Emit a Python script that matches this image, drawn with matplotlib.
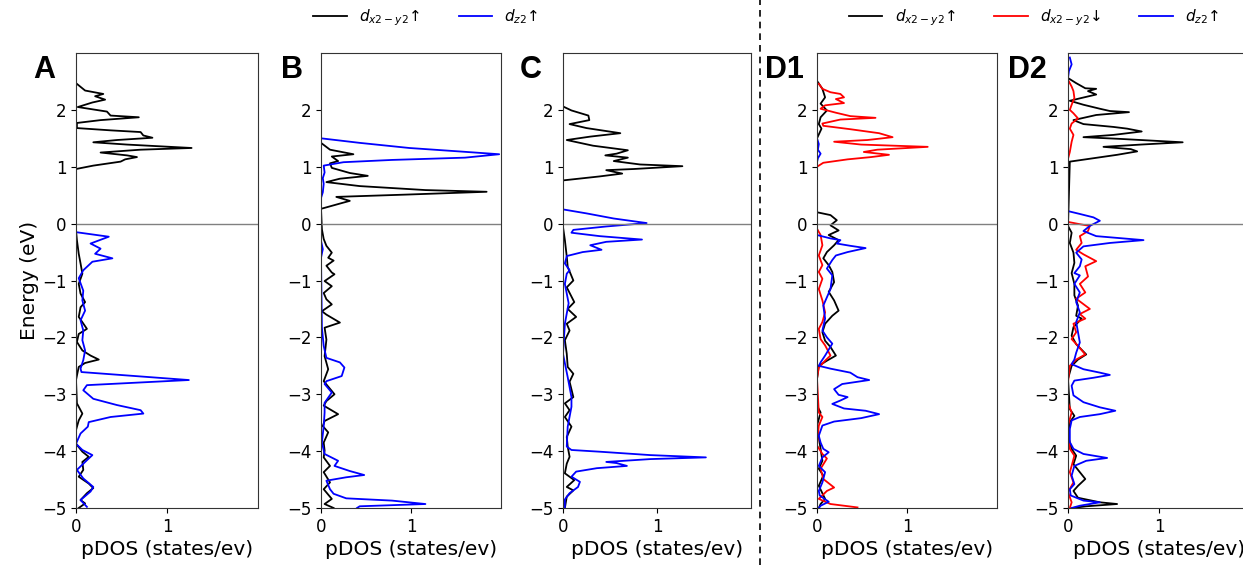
import matplotlib
matplotlib.use("Agg")
import matplotlib.pyplot as plt
from matplotlib.lines import Line2D

# ---- data (energy in eV, pDOS in states/eV) ----
# panel A
a_up_e = [2.47, 2.34, 2.28, 2.24, 2.18, 2.13, 2.05, 2.02, 1.97, 1.90, 1.87, 1.82, 1.77, 1.68, 1.64,
          1.61, 1.55, 1.51, 1.47, 1.43, 1.39, 1.33, 1.30, 1.25, 1.20, 1.17, 1.13, 1.09, 1.02, 0.96,
          -0.12, -0.29, -0.53, -0.70, -0.88, -1.06, -1.23, -1.38, -1.47, -1.64, -1.85, -1.94, -2.08,
          -2.23, -2.32, -2.39, -2.45, -2.52, -2.75, -3.16, -3.34, -3.46, -3.63, -3.87, -4.01, -4.10,
          -4.19, -4.33, -4.45, -4.57, -4.65, -4.74, -4.86, -4.92, -5.0]
a_up_dos = [0.0, 0.10, 0.30, 0.21, 0.32, 0.18, 0.02, 0.14, 0.34, 0.38, 0.69, 0.27, 0.01, 0.01, 0.38,
            0.71, 0.74, 0.84, 0.45, 0.19, 0.56, 1.27, 0.71, 0.27, 0.56, 0.67, 0.54, 0.49, 0.19, 0.0,
            0.0, 0.01, 0.03, 0.05, 0.07, 0.03, 0.05, 0.10, 0.05, 0.03, 0.12, 0.03, 0.01,
            0.07, 0.16, 0.25, 0.10, 0.03, 0.0, 0.01, 0.07, 0.03, 0.0, 0.0, 0.07, 0.14,
            0.07, 0.08, 0.03, 0.14, 0.19, 0.12, 0.05, 0.10, 0.03]
a_z2_e = [-0.15, -0.23, -0.35, -0.44, -0.53, -0.61, -0.67, -0.82, -0.96, -1.18, -1.35, -1.53, -1.70,
          -1.88, -2.05, -2.23, -2.40, -2.55, -2.61, -2.75, -2.84, -2.93, -3.08, -3.19, -3.28, -3.34,
          -3.40, -3.49, -3.57, -3.69, -3.87, -3.98, -4.07, -4.16, -4.33, -4.48, -4.63, -4.71, -4.86,
          -4.98]
a_z2_dos = [0.0, 0.36, 0.16, 0.27, 0.21, 0.40, 0.18, 0.08, 0.03, 0.08, 0.07, 0.10, 0.05,
            0.08, 0.07, 0.10, 0.08, 0.05, 0.06, 1.24, 0.12, 0.08, 0.19, 0.45, 0.71, 0.74,
            0.38, 0.14, 0.13, 0.05, 0.0, 0.07, 0.18, 0.12, 0.01, 0.08, 0.19, 0.16, 0.05,
            0.12]

# panel B
b_up_e = [1.42, 1.30, 1.22, 1.18, 1.10, 1.06, 0.98, 0.89, 0.84, 0.79, 0.73, 0.66, 0.59, 0.56, 0.51,
          0.47, 0.40, 0.37, 0.26, -0.10, -0.27, -0.39, -0.51, -0.60, -0.65, -0.74, -0.86, -0.89,
          -1.01, -1.10, -1.22, -1.33, -1.42, -1.54, -1.60, -1.74, -1.83, -2.04, -2.33, -2.56, -2.77,
          -3.00, -3.12, -3.20, -3.35, -3.47, -3.56, -3.67, -3.85, -3.99, -4.11, -4.26, -4.37, -4.55,
          -4.67, -4.84, -4.93, -5.0]
b_up_dos = [0.0, 0.10, 0.36, 0.12, 0.19, 0.10, 0.12, 0.32, 0.52, 0.21, 0.06, 0.43, 1.16, 1.84, 0.94,
            0.17, 0.32, 0.25, 0.0, 0.01, 0.03, 0.06, 0.12, 0.08, 0.14, 0.06, 0.12, 0.15,
            0.04, 0.12, 0.03, 0.06, 0.12, 0.01, 0.06, 0.21, 0.04, 0.06, 0.04, 0.08, 0.03,
            0.15, 0.06, 0.03, 0.19, 0.04, 0.02, 0.08, 0.03, 0.04, 0.03, 0.10, 0.03, 0.10,
            0.03, 0.12, 0.04, 0.14]
b_z2_e = [1.50, 1.42, 1.33, 1.27, 1.22, 1.16, 1.12, 1.08, 1.02, 0.90, 0.80, 0.70, 0.55, 0.45,
          -0.30, -0.45, -0.60, -1.83, -2.15, -2.36, -2.44, -2.53, -2.68, -2.77, -2.82, -2.97, -3.15,
          -3.32, -3.56, -3.85, -4.05, -4.17, -4.26, -4.35, -4.42, -4.46, -4.52, -4.67, -4.75, -4.83,
          -4.87, -4.93, -4.97, -5.0]
b_z2_dos = [0.0, 0.43, 0.98, 1.53, 1.98, 1.60, 0.79, 0.25, 0.03, 0.04, 0.02, 0.03, 0.02, 0.0,
            0.0, 0.02, 0.0, 0.01, 0.03, 0.06, 0.21, 0.26, 0.23, 0.06, 0.04, 0.12, 0.04,
            0.04, 0.03, 0.01, 0.04, 0.19, 0.15, 0.32, 0.48, 0.28, 0.06, 0.10, 0.14, 0.28,
            0.79, 1.16, 0.43, 0.40]

# panel C
c_up_e = [2.06, 1.99, 1.90, 1.82, 1.75, 1.68, 1.59, 1.53, 1.47, 1.37, 1.29, 1.23, 1.20, 1.16, 1.10,
          1.04, 1.01, 0.96, 0.94, 0.88, 0.83, 0.76, -0.06, -0.29, -0.58, -0.76, -1.00, -1.12, -1.38,
          -1.50, -1.64, -1.76, -1.88, -2.05, -2.29, -2.52, -2.64, -2.78, -3.05, -3.16, -3.28, -3.40,
          -3.57, -3.75, -3.92, -4.10, -4.22, -4.39, -4.51, -4.63, -4.69, -4.80, -5.0]
c_up_dos = [0.0, 0.09, 0.27, 0.28, 0.07, 0.25, 0.61, 0.29, 0.04, 0.32, 0.69, 0.57, 0.45, 0.69, 0.54,
            0.82, 1.27, 0.75, 0.46, 0.63, 0.39, 0.0, 0.0, 0.02, 0.04, 0.05, 0.11, 0.04, 0.12,
            0.05, 0.14, 0.04, 0.07, 0.02, 0.04, 0.05, 0.11, 0.07, 0.11, 0.02, 0.07, 0.02,
            0.09, 0.04, 0.05, 0.07, 0.04, 0.02, 0.12, 0.04, 0.11, 0.04, 0.02]
c_z2_e = [0.25, 0.18, 0.09, 0.01, -0.05, -0.11, -0.16, -0.22, -0.28, -0.32, -0.38, -0.46, -0.50,
          -0.57, -0.70, -0.82, -0.88, -1.06, -1.40, -1.76, -2.29, -2.70, -3.05, -3.22, -3.57, -3.92,
          -3.98, -4.01, -4.07, -4.11, -4.14, -4.19, -4.21, -4.26, -4.30, -4.36, -4.45, -4.54, -4.63,
          -4.74, -4.85, -5.0]
c_z2_dos = [0.0, 0.25, 0.54, 0.89, 0.46, 0.11, 0.09, 0.39, 0.84, 0.46, 0.29, 0.41, 0.21,
            0.04, 0.02, 0.07, 0.04, 0.02, 0.06, 0.02, 0.0, 0.05, 0.09, 0.09, 0.05, 0.04,
            0.09, 0.39, 0.93, 1.52, 0.93, 0.46, 0.57, 0.68, 0.36, 0.14, 0.09, 0.18, 0.16,
            0.07, 0.02, 0.02]

# panel D1
d1_up_e = [2.51, 2.37, 2.22, 2.11, 1.99, 1.87, 1.75, 1.67, 1.50, 0.20, 0.15, 0.06, -0.03, -0.12,
           -0.20, -0.29, -0.38, -0.50, -0.61, -0.73, -0.85, -1.03, -1.20, -1.35, -1.53, -1.62, -1.76,
           -1.91, -2.06, -2.17, -2.32, -2.41, -2.50, -2.73, -3.20, -3.32, -3.55, -3.96, -4.17, -4.31,
           -4.43, -4.61, -4.84, -4.93, -5.0]
d1_up_dos = [0.0, 0.06, 0.09, 0.04, 0.11, 0.04, 0.02, 0.05, 0.0, 0.0, 0.15, 0.22, 0.15, 0.24,
             0.13, 0.24, 0.19, 0.11, 0.07, 0.13, 0.17, 0.19, 0.13, 0.19, 0.24, 0.17, 0.09,
             0.06, 0.09, 0.15, 0.21, 0.11, 0.02, 0.0, 0.0, 0.04, 0.0, 0.04, 0.06, 0.02,
             0.07, 0.02, 0.09, 0.04, 0.02]
d1_dn_e = [2.46, 2.37, 2.31, 2.28, 2.22, 2.19, 2.12, 2.08, 2.02, 1.95, 1.89, 1.86, 1.83, 1.76, 1.72,
           1.66, 1.59, 1.52, 1.47, 1.44, 1.39, 1.35, 1.30, 1.26, 1.21, 1.17, 1.13, 1.07, 1.02, 1.0,
           -0.09, -0.20, -0.38, -0.56, -0.73, -0.85, -0.97, -1.15, -1.35, -1.56, -1.73, -1.85, -2.03,
           -2.14, -2.32, -2.41, -2.53, -2.73, -3.32, -3.40, -3.55, -3.90, -4.05, -4.13, -4.31, -4.49,
           -4.64, -4.70, -4.84, -4.93, -4.99]
d1_dn_dos = [0.02, 0.06, 0.15, 0.26, 0.30, 0.21, 0.30, 0.09, 0.04, 0.21, 0.37, 0.65, 0.26, 0.06, 0.07,
             0.37, 0.69, 0.84, 0.56, 0.19, 0.49, 1.23, 0.67, 0.52, 0.80, 0.60, 0.34, 0.07, 0.02, 0.0,
             0.0, 0.04, 0.06, 0.02, 0.06, 0.02, 0.06, 0.02, 0.06, 0.09, 0.06, 0.02, 0.04,
             0.09, 0.15, 0.09, 0.02, 0.0, 0.02, 0.06, 0.02, 0.0, 0.06, 0.11, 0.04, 0.07,
             0.19, 0.11, 0.02, 0.15, 0.45]
d1_z2_e = [1.50, 1.40, 1.30, 1.23, 1.15, 1.08, -0.20, -0.26, -0.29, -0.35, -0.39, -0.43, -0.50,
           -0.56, -0.64, -0.79, -0.91, -1.15, -1.44, -1.67, -1.88, -2.00, -2.11, -2.32, -2.44, -2.50,
           -2.55, -2.62, -2.70, -2.75, -2.82, -2.91, -3.01, -3.05, -3.11, -3.17, -3.25, -3.29, -3.35,
           -3.42, -3.48, -3.55, -3.73, -3.85, -3.96, -4.02, -4.11, -4.26, -4.37, -4.55, -4.70, -4.78,
           -4.89, -4.96, -5.0]
d1_z2_dos = [0.0, 0.02, 0.01, 0.04, 0.01, 0.0, 0.0, 0.15, 0.26, 0.22, 0.37, 0.54, 0.34,
             0.21, 0.17, 0.11, 0.17, 0.15, 0.07, 0.09, 0.06, 0.11, 0.17, 0.09, 0.04, 0.02,
             0.15, 0.37, 0.45, 0.58, 0.28, 0.19, 0.24, 0.34, 0.26, 0.17, 0.30, 0.54, 0.69,
             0.49, 0.19, 0.06, 0.02, 0.04, 0.07, 0.13, 0.06, 0.02, 0.09, 0.06, 0.02, 0.03,
             0.13, 0.04, 0.02]

# panel D2
d2_up_e = [2.56, 2.47, 2.38, 2.37, 2.33, 2.27, 2.21, 2.16, 2.09, 2.02, 1.98, 1.96, 1.91, 1.82, 1.75,
           1.70, 1.67, 1.62, 1.56, 1.52, 1.49, 1.43, 1.39, 1.35, 1.31, 1.27, 1.21, 1.15, 1.09,
           -0.04, -0.16, -0.34, -0.51, -0.69, -0.87, -1.06, -1.26, -1.44, -1.62, -1.67, -1.82, -1.97,
           -2.12, -2.30, -2.39, -2.50, -2.73, -3.26, -3.38, -3.49, -3.73, -3.96, -4.08, -4.23, -4.37,
           -4.49, -4.61, -4.70, -4.82, -4.90, -4.93, -4.97, -5.0]
d2_up_dos = [0.0, 0.09, 0.19, 0.31, 0.22, 0.31, 0.15, 0.02, 0.17, 0.35, 0.46, 0.67, 0.31, 0.06, 0.17,
             0.50, 0.65, 0.81, 0.50, 0.17, 0.57, 1.26, 0.80, 0.39, 0.69, 0.76, 0.54, 0.28, 0.02,
             0.0, 0.04, 0.02, 0.06, 0.07, 0.04, 0.07, 0.07, 0.11, 0.09, 0.15, 0.06, 0.04,
             0.09, 0.20, 0.11, 0.04, 0.0, 0.02, 0.07, 0.02, 0.0, 0.04, 0.09, 0.06, 0.13,
             0.19, 0.11, 0.06, 0.11, 0.35, 0.54, 0.20, 0.05]
d2_dn_e = [2.50, 2.41, 2.33, 2.21, 2.09, 2.00, 1.94, 1.85, 1.76, 1.67, 1.56, 1.44, 1.26, 1.14,
           0.03, -0.01, -0.04, -0.13, -0.22, -0.34, -0.46, -0.54, -0.66, -0.75, -0.93, -1.06, -1.21,
           -1.32, -1.50, -1.59, -1.67, -1.76, -1.91, -2.03, -2.15, -2.30, -2.39, -2.50, -2.79, -3.15,
           -3.32, -3.55, -3.96, -4.08, -4.26, -4.37, -4.55, -4.72, -4.90, -5.0]
d2_dn_dos = [0.01, 0.04, 0.06, 0.07, 0.04, 0.02, 0.06, 0.11, 0.04, 0.02, 0.06, 0.04, 0.02, 0.0,
             0.0, 0.13, 0.24, 0.22, 0.13, 0.15, 0.09, 0.17, 0.31, 0.19, 0.22, 0.13, 0.19,
             0.09, 0.24, 0.13, 0.19, 0.06, 0.09, 0.04, 0.11, 0.19, 0.09, 0.02, 0.0, 0.0,
             0.04, 0.0, 0.02, 0.07, 0.04, 0.02, 0.06, 0.0, 0.04, 0.02]
d2_z2_e = [2.92, 2.80, 2.68, 2.56, 0.22, 0.17, 0.11, 0.05, -0.04, -0.13, -0.22, -0.29, -0.34, -0.40,
           -0.51, -0.63, -0.75, -0.87, -0.91, -1.06, -1.21, -1.38, -1.56, -1.73, -1.91, -2.09, -2.27,
           -2.39, -2.47, -2.56, -2.62, -2.66, -2.71, -2.76, -2.85, -3.02, -3.14, -3.23, -3.29, -3.35,
           -3.40, -3.46, -3.61, -3.84, -3.96, -4.05, -4.12, -4.17, -4.26, -4.43, -4.58, -4.67, -4.78,
           -4.87, -4.90, -4.96, -5.0]
d2_z2_dos = [0.02, 0.04, 0.01, 0.0, 0.0, 0.13, 0.28, 0.35, 0.24, 0.17, 0.31, 0.83, 0.46, 0.17,
             0.09, 0.15, 0.13, 0.07, 0.13, 0.07, 0.13, 0.09, 0.13, 0.09, 0.11, 0.13, 0.09,
             0.07, 0.04, 0.17, 0.35, 0.46, 0.28, 0.07, 0.04, 0.06, 0.17, 0.35, 0.52, 0.35,
             0.13, 0.04, 0.02, 0.02, 0.06, 0.17, 0.43, 0.20, 0.07, 0.04, 0.07, 0.02, 0.03,
             0.17, 0.35, 0.13, 0.04]

panel_names = ["A", "B", "C", "D1", "D2"]
lbl_up = r"$d_{x2-y2}$↑"
lbl_dn = r"$d_{x2-y2}$↓"
lbl_z2 = r"$d_{z2}$↑"

W, H = 1243, 565
fig = plt.figure(figsize=(W / 100, H / 100), dpi=100)

# axes boxes in pixels: left, right
boxes = [(76, 258), (321, 501), (563, 751), (817, 997), (1068, 1250)]
top, bottom = 53, 508

curves = [
    [(a_up_e, a_up_dos, "black"), (a_z2_e, a_z2_dos, "blue")],
    [(b_up_e, b_up_dos, "black"), (b_z2_e, b_z2_dos, "blue")],
    [(c_up_e, c_up_dos, "black"), (c_z2_e, c_z2_dos, "blue")],
    [(d1_up_e, d1_up_dos, "black"), (d1_dn_e, d1_dn_dos, "red"), (d1_z2_e, d1_z2_dos, "blue")],
    [(d2_up_e, d2_up_dos, "black"), (d2_dn_e, d2_dn_dos, "red"), (d2_z2_e, d2_z2_dos, "blue")],
]

for i, ((l, r), name) in enumerate(zip(boxes, panel_names)):
    ax = fig.add_axes([l / W, 1 - bottom / H, (r - l) / W, (bottom - top) / H])
    for e, d, c in curves[i]:
        ax.plot(d, e, color=c, lw=1.3)
    ax.axhline(0, color="gray", lw=1)
    ax.set_xlim(0, 2)
    ax.set_ylim(-5, 3)
    ax.set_xticks([0, 1])
    ax.set_yticks(range(-5, 3))
    ax.tick_params(labelsize=12)
    ax.set_xlabel("pDOS (states/ev)", fontsize=14.5, labelpad=3)
    if i == 0:
        ax.set_ylabel("Energy (eV)", fontsize=14.5, labelpad=2)
    for s in ax.spines.values():
        s.set_color("#333333")

# panel letters
letter_x = [44, 292, 531, 784, 1027]
for name, x in zip(panel_names, letter_x):
    fig.text(x / W, 1 - 70 / H, name, fontsize=22, fontweight="bold",
             family="Liberation Sans", ha="center", va="center")

# separator
fig.add_artist(Line2D([760 / W, 760 / W], [0, 1], transform=fig.transFigure,
                      color="black", lw=1.2, ls=(0, (4, 3))))

# legends
h_up = Line2D([], [], color="black", lw=1.3)
h_dn = Line2D([], [], color="red", lw=1.3)
h_z2 = Line2D([], [], color="blue", lw=1.3)
fig.legend([h_up, h_z2], [lbl_up, lbl_z2], loc="center", ncol=2, frameon=False,
           bbox_to_anchor=(426 / W, 1 - 18 / H), fontsize=11, handlelength=2.2, columnspacing=2.5)
fig.legend([h_up, h_dn, h_z2], [lbl_up, lbl_dn, lbl_z2], loc="center", ncol=3, frameon=False,
           bbox_to_anchor=(1034 / W, 1 - 18 / H), fontsize=11, handlelength=2.2, columnspacing=2.5)

fig.savefig("out.png", dpi=100)
